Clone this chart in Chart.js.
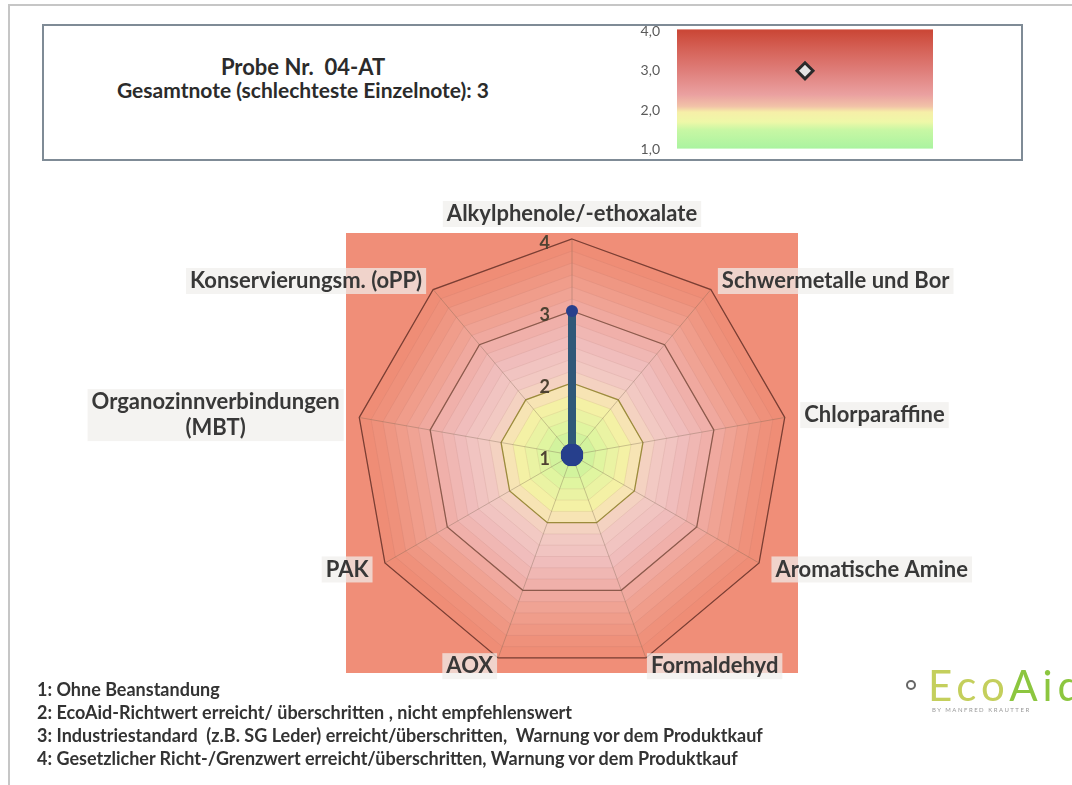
<!DOCTYPE html>
<html lang="de">
<head>
<meta charset="utf-8">
<title>Probe Nr. 04-AT</title>
<script src="https://cdn.jsdelivr.net/npm/chart.js@4.4.1/dist/chart.umd.min.js"></script>
<style>
  html, body { margin: 0; padding: 0; background: #fff; }
  body { width: 1072px; height: 785px; position: relative; overflow: hidden; font-family: Lato, "Open Sans", sans-serif; color: #2b2b2b; }
  #frame { position: absolute; left: 8px; top: 4px; width: 1100px; height: 820px; border-top: 2px solid #c6c6c6; border-left: 2px solid #c6c6c6; }
  #box { position: absolute; left: 42px; top: 24px; width: 977px; height: 133px; border: 2px solid #7f8b96; background: #fff; }
  .title { position: absolute; left: 63px; width: 480px; text-align: center; font-weight: bold; white-space: pre; }
  #t1 { top: 53px; font-size: 22px; line-height: 28px; }
  #t2 { top: 78px; font-size: 21px; line-height: 24px; }
  #gradeChart { position: absolute; left: 620px; top: 6px; }
  #radarChart { position: absolute; left: 40px; top: 190px; }
  #legend { position: absolute; left: 37px; top: 678px; font-size: 18px; font-weight: bold; line-height: 23px; color: #333; white-space: pre; }
  #logo { position: absolute; left: 906px; top: 660px; white-space: nowrap; }
  #logo .dot { display: inline-block; width: 6px; height: 6px; border: 2px solid #666; border-radius: 50%; margin-right: 12px; vertical-align: middle; }
  #logo .eco { font-size: 42px; color: #c4cf5c; letter-spacing: 5px; vertical-align: middle; }
  #logo .aid { color: #8cc63f; }
  #logo .sub { position: absolute; left: 26px; top: 46px; font-size: 6px; letter-spacing: 1.5px; color: #999; }
</style>
</head>
<body>
<div id="frame"></div>
<div id="box"></div>
<div class="title" id="t1">Probe Nr.  04-AT</div>
<div class="title" id="t2">Gesamtnote (schlechteste Einzelnote): 3</div>
<canvas id="gradeChart" width="330" height="169"></canvas>
<canvas id="radarChart" width="1000" height="500"></canvas>
<div id="legend"><div>1: Ohne Beanstandung</div><div>2: EcoAid-Richtwert erreicht/ überschritten , nicht empfehlenswert</div><div>3: Industriestandard  (z.B. SG Leder) erreicht/überschritten,  Warnung vor dem Produktkauf</div><div>4: Gesetzlicher Richt-/Grenzwert erreicht/überschritten, Warnung vor dem Produktkauf</div></div>
<div id="logo"><span class="dot"></span><span class="eco">Eco<span class="aid">Aid</span></span><div class="sub">BY MANFRED KRAUTTER</div></div>

<script>
// Overall grade (top box)
const gradeLabels = ['Gesamtnote'];
const gradeValues = [3];
const gradeTickLabels = ['1,0', '2,0', '3,0', '4,0'];

// Radar categories, clockwise from the top
const categories = [
  'Alkylphenole/-ethoxalate',
  'Schwermetalle und Bor',
  'Chlorparaffine',
  'Aromatische Amine',
  'Formaldehyd',
  'AOX',
  'PAK',
  'Organozinnverbindungen\n(MBT)',
  'Konservierungsm. (oPP)'
];
const scores = [3, 1, 1, 1, 1, 1, 1, 1, 1];
const radarTickLabels = ['1', '2', '3', '4'];

// colour ramps (value -> colour)
const gradeStops = [
  [4.0, '#cb4838'], [3.5, '#d6645a'], [3.0, '#df7e7a'], [2.4, '#eaa0a0'],
  [2.1, '#f2c2a8'], [1.95, '#f6efa8'], [1.7, '#eef8a8'], [1.5, '#c8f7a4'], [1.0, '#a8f3a0']
];
const bandStops = [
  [1.0, [182, 238, 150]], [1.5, [224, 245, 160]], [1.9, [248, 240, 166]],
  [2.0, [247, 228, 180]], [2.2, [243, 206, 196]], [2.6, [240, 192, 192]],
  [3.0, [240, 176, 170]], [3.4, [240, 160, 144]], [3.8, [239, 146, 124]], [4.0, [239, 141, 118]]
];
const gridColors = { 2: '#9c8c3c', 3: '#8c5a4c', 4: '#7a3e33' };

function bandColor(v) {
  for (let i = 1; i < bandStops.length; i++) {
    const [v0, c0] = bandStops[i - 1];
    const [v1, c1] = bandStops[i];
    if (v <= v1) {
      const t = (v - v0) / (v1 - v0);
      const c = c0.map((x, k) => Math.round(x + (c1[k] - x) * t));
      return `rgb(${c[0]},${c[1]},${c[2]})`;
    }
  }
  const c = bandStops[bandStops.length - 1][1];
  return `rgb(${c[0]},${c[1]},${c[2]})`;
}

// ---------- small grade chart ----------
const gradeBackground = {
  id: 'gradeBackground',
  beforeDatasetsDraw(chart) {
    const { ctx, chartArea: a, scales: { y } } = chart;
    const g = ctx.createLinearGradient(0, y.getPixelForValue(4), 0, y.getPixelForValue(1));
    gradeStops.forEach(([v, col]) => g.addColorStop((4 - v) / 3, col));
    ctx.save();
    ctx.fillStyle = g;
    ctx.fillRect(a.left, a.top - 2, a.width, a.height + 1);
    ctx.restore();
  }
};

new Chart(document.getElementById('gradeChart'), {
  type: 'line',
  data: {
    labels: gradeLabels,
    datasets: [{
      data: gradeValues,
      showLine: false,
      pointStyle: 'rectRot',
      pointRadius: 8,
      pointBackgroundColor: '#e4e4e4',
      pointBorderColor: '#2a2a2a',
      pointBorderWidth: 3
    }]
  },
  options: {
    responsive: false,
    animation: false,
    layout: { padding: { left: 0, right: 17, top: 0, bottom: 2 } },
    plugins: { legend: { display: false }, tooltip: { enabled: false } },
    scales: {
      x: { type: 'category', offset: true, display: false },
      y: {
        min: 1, max: 4,
        afterFit: s => { s.width = 57; },
        grid: { display: false, drawTicks: false },
        border: { display: false },
        ticks: {
          stepSize: 1,
          padding: 17,
          color: '#5a5a5a',
          font: { family: 'Lato', size: 14 },
          callback: (v, i) => gradeTickLabels[i]
        }
      }
    }
  },
  plugins: [gradeBackground]
});

// ---------- radar chart ----------
const radarBackground = {
  id: 'radarBackground',
  beforeDraw(chart) {
    const r = chart.scales.r;
    const ctx = chart.ctx;
    ctx.save();
    ctx.fillStyle = '#f08e78';
    ctx.fillRect(r.xCenter - 226, r.yCenter - 222, 452, 440);
    for (let k = 18; k >= 1; k--) {
      const v = 1 + k / 6;
      ctx.beginPath();
      categories.forEach((_, i) => {
        const p = r.getPointPosition(i, r.getDistanceFromCenterForValue(v));
        if (i === 0) ctx.moveTo(p.x, p.y); else ctx.lineTo(p.x, p.y);
      });
      ctx.closePath();
      ctx.fillStyle = bandColor(v);
      ctx.fill();
      ctx.strokeStyle = 'rgba(160,100,90,0.12)';
      ctx.lineWidth = 1;
      ctx.stroke();
    }
    ctx.restore();
  }
};

const radarLabels = {
  id: 'radarLabels',
  afterDraw(chart) {
    const r = chart.scales.r;
    const ctx = chart.ctx;
    ctx.save();
    ctx.font = 'bold 22px Lato';
    ctx.textAlign = 'center';
    ctx.textBaseline = 'middle';
    categories.forEach((label, i) => {
      const lines = label.split('\n');
      const angle = Math.round(360 / categories.length * i);
      const rad = angle * Math.PI / 180;
      const pad = 12 + 8 * Math.abs(Math.sin(rad));
      const p = r.getPointPosition(i, r.drawingArea + pad);
      const w = Math.max(...lines.map(l => ctx.measureText(l).width));
      const lh = 26;
      const h = lines.length * lh;
      const left = angle === 0 ? p.x - w / 2 : angle < 180 ? p.x : p.x - w;
      const top = angle === 0 ? p.y - h : p.y + 6 * Math.cos(rad) - h / 2;
      ctx.fillStyle = 'rgba(240,238,236,0.72)';
      ctx.fillRect(left - 4, top, w + 8, h);
      ctx.fillStyle = '#383838';
      lines.forEach((l, k) => ctx.fillText(l, left + w / 2, top + lh * (k + 0.5)));
    });
    // axis numbers left of the first spoke
    ctx.font = 'bold 18px Lato';
    ctx.textAlign = 'right';
    ctx.fillStyle = '#4e4232';
    r.ticks.forEach((t, i) => {
      const y = r.yCenter - r.getDistanceFromCenterForValue(t.value) + 4;
      ctx.fillText(radarTickLabels[i], r.xCenter - 22, y);
    });
    ctx.restore();
  }
};

new Chart(document.getElementById('radarChart'), {
  type: 'radar',
  data: {
    labels: categories,
    datasets: [{
      data: scores,
      fill: false,
      borderColor: '#2f5878',
      borderWidth: 8,
      borderJoinStyle: 'round',
      pointRadius: c => (c.dataIndex === 0 ? 6 : 11),
      pointBackgroundColor: '#263f8c',
      pointBorderWidth: 0
    }]
  },
  options: {
    responsive: false,
    animation: false,
    layout: { padding: { left: 316, right: 252, top: 49, bottom: 19 } },
    plugins: { legend: { display: false }, tooltip: { enabled: false } },
    scales: {
      r: {
        min: 1,
        max: 4,
        ticks: { display: false, stepSize: 1 },
        pointLabels: { display: false },
        grid: {
          color: c => gridColors[c.tick ? c.tick.value : 0] || 'rgba(0,0,0,0)',
          lineWidth: 1.3
        },
        angleLines: { color: 'rgba(120,100,80,0.35)', lineWidth: 1 }
      }
    }
  },
  plugins: [radarBackground, radarLabels]
});
</script>
</body>
</html>
